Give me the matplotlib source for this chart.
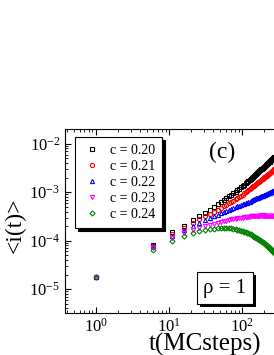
import matplotlib
matplotlib.use("Agg")
import matplotlib.pyplot as plt
import matplotlib.patheffects as pe

plt.rcParams["font.family"] = "Liberation Serif"
plt.rcParams["mathtext.fontset"] = "stix"

# time in MC steps (sampled every 5 steps)
t = [1, 6, 11, 16, 21, 26, 31, 36, 41, 46, 51, 56, 61, 66, 71, 76, 81, 86, 91, 96,
     101, 106, 111, 116, 121, 126, 131, 136, 141, 146, 151, 156, 161, 166, 171, 176,
     181, 186, 191, 196, 201, 206, 211, 216, 221, 226, 231, 236, 241, 246, 251, 256,
     261, 266, 271, 276]

i_020 = [1.74e-5, 8.3e-5, 1.48e-4, 2.04e-4, 2.63e-4, 3.16e-4, 3.72e-4, 4.31e-4, 4.90e-4, 5.60e-4,
         6.31e-4, 6.95e-4, 7.60e-4, 8.28e-4, 8.91e-4, 9.62e-4, 1.03e-3, 1.10e-3, 1.175e-3, 1.26e-3,
         1.35e-3, 1.44e-3, 1.53e-3, 1.62e-3, 1.72e-3, 1.81e-3, 1.91e-3, 2.01e-3, 2.11e-3, 2.21e-3,
         2.32e-3, 2.43e-3, 2.54e-3, 2.64e-3, 2.75e-3, 2.86e-3, 2.97e-3, 3.08e-3, 3.19e-3, 3.30e-3,
         3.40e-3, 3.52e-3, 3.63e-3, 3.75e-3, 3.88e-3, 4.02e-3, 4.15e-3, 4.28e-3, 4.41e-3, 4.54e-3,
         4.68e-3, 4.81e-3, 4.95e-3, 5.07e-3, 5.21e-3, 5.37e-3]
i_021 = [1.74e-5, 7.94e-5, 1.38e-4, 1.86e-4, 2.34e-4, 2.75e-4, 3.16e-4, 3.53e-4, 3.89e-4, 4.29e-4,
         4.68e-4, 5.08e-4, 5.50e-4, 5.92e-4, 6.31e-4, 6.73e-4, 7.13e-4, 7.53e-4, 7.94e-4, 8.43e-4,
         8.93e-4, 9.44e-4, 9.95e-4, 1.05e-3, 1.10e-3, 1.15e-3, 1.20e-3, 1.26e-3, 1.32e-3, 1.37e-3,
         1.43e-3, 1.49e-3, 1.55e-3, 1.60e-3, 1.66e-3, 1.72e-3, 1.78e-3, 1.84e-3, 1.90e-3, 1.95e-3,
         2.02e-3, 2.08e-3, 2.14e-3, 2.20e-3, 2.27e-3, 2.34e-3, 2.40e-3, 2.47e-3, 2.54e-3, 2.61e-3,
         2.67e-3, 2.74e-3, 2.81e-3, 2.88e-3, 2.95e-3, 3.02e-3]
i_022 = [1.74e-5, 7.76e-5, 1.26e-4, 1.66e-4, 2.04e-4, 2.34e-4, 2.63e-4, 2.90e-4, 3.16e-4, 3.44e-4,
         3.72e-4, 3.94e-4, 4.15e-4, 4.37e-4, 4.57e-4, 4.75e-4, 4.92e-4, 5.08e-4, 5.25e-4, 5.43e-4,
         5.60e-4, 5.78e-4, 5.94e-4, 6.11e-4, 6.28e-4, 6.44e-4, 6.61e-4, 6.79e-4, 6.95e-4, 7.11e-4,
         7.29e-4, 7.45e-4, 7.62e-4, 7.78e-4, 7.94e-4, 8.11e-4, 8.26e-4, 8.41e-4, 8.55e-4, 8.69e-4,
         8.83e-4, 8.97e-4, 9.12e-4, 9.27e-4, 9.42e-4, 9.55e-4, 9.70e-4, 9.84e-4, 9.98e-4, 1.01e-3,
         1.03e-3, 1.04e-3, 1.05e-3, 1.07e-3, 1.08e-3, 1.10e-3]
i_023 = [1.74e-5, 7.08e-5, 1.12e-4, 1.41e-4, 1.66e-4, 1.86e-4, 2.00e-4, 2.12e-4, 2.24e-4, 2.35e-4,
         2.45e-4, 2.54e-4, 2.61e-4, 2.69e-4, 2.75e-4, 2.81e-4, 2.86e-4, 2.90e-4, 2.95e-4, 2.98e-4,
         3.01e-4, 3.04e-4, 3.06e-4, 3.09e-4, 3.12e-4, 3.14e-4, 3.16e-4, 3.18e-4, 3.21e-4, 3.22e-4,
         3.24e-4, 3.26e-4, 3.28e-4, 3.30e-4, 3.31e-4, 3.30e-4, 3.32e-4, 3.31e-4, 3.31e-4, 3.32e-4,
         3.31e-4, 3.30e-4, 3.31e-4, 3.30e-4, 3.28e-4, 3.27e-4, 3.26e-4, 3.24e-4, 3.24e-4, 3.22e-4,
         3.21e-4, 3.20e-4, 3.19e-4, 3.18e-4, 3.17e-4, 3.16e-4]
i_024 = [1.74e-5, 6.31e-5, 1.00e-4, 1.23e-4, 1.41e-4, 1.55e-4, 1.66e-4, 1.72e-4, 1.78e-4, 1.82e-4,
         1.86e-4, 1.87e-4, 1.86e-4, 1.84e-4, 1.82e-4, 1.77e-4, 1.73e-4, 1.69e-4, 1.66e-4, 1.61e-4,
         1.56e-4, 1.52e-4, 1.48e-4, 1.45e-4, 1.41e-4, 1.38e-4, 1.35e-4, 1.30e-4, 1.26e-4, 1.22e-4,
         1.18e-4, 1.14e-4, 1.11e-4, 1.08e-4, 1.05e-4, 1.01e-4, 9.84e-5, 9.55e-5, 9.29e-5, 9.04e-5,
         8.79e-5, 8.55e-5, 8.32e-5, 8.04e-5, 7.78e-5, 7.52e-5, 7.28e-5, 7.06e-5, 6.85e-5, 6.65e-5,
         6.46e-5, 6.28e-5, 6.10e-5, 5.93e-5, 5.78e-5, 5.62e-5]

labels = ["c = 0.20", "c = 0.21", "c = 0.22", "c = 0.23", "c = 0.24"]
series = [i_020, i_021, i_022, i_023, i_024]
markers = ["s", "o", "^", "v", "D"]
colors = ["black", "#ff0000", "#0000ff", "#ff00ff", "#008000"]

fig = plt.figure(figsize=(2.74, 3.55), dpi=100, facecolor="white")
# axes runs past the right edge of the picture (cropped panel)
ax = fig.add_axes([0.2372, 0.118, 0.914, 0.518])

for y, m, c, lab in zip(series, markers, colors, labels):
    ms = 2.6 if m == "D" else 3.0
    ax.plot(t, y, linestyle="none", marker=m, markersize=ms, markerfacecolor="none",
            markeredgecolor=c, markeredgewidth=0.8, label=lab)

ax.set_xscale("log")
ax.set_yscale("log")
ax.set_xlim(0.38, 1000)
ax.set_ylim(3.2e-6, 0.02)
ax.tick_params(which="both", direction="in", top=True, right=False, labelsize=12)
ax.tick_params(which="major", length=4, width=0.8)
ax.tick_params(which="minor", length=2, width=0.6)
for s in ax.spines.values():
    s.set_linewidth(0.8)

ax.set_xlabel("t(MCsteps)", fontsize=18)
ax.xaxis.set_label_coords(0.559, -0.11)
ax.set_ylabel("<i(t)>", fontsize=17)
ax.yaxis.set_label_coords(-0.158, 0.478)

leg = ax.legend(loc="upper left", bbox_to_anchor=(0.04, 0.957), borderaxespad=0,
                fontsize=10, frameon=True, fancybox=False, edgecolor="black",
                framealpha=1, handlelength=1.4, handletextpad=0.6, labelspacing=0.22,
                borderpad=0.5, markerscale=1.0,
                shadow={"facecolor": "black", "edgecolor": "black", "alpha": 1.0})
leg.get_frame().set_linewidth(0.8)

ax.text(0.627, 0.875, "(c)", transform=ax.transAxes, fontsize=17, ha="center", va="center")

rho = ax.text(0.639, 0.136, "ρ = 1", transform=ax.transAxes, fontsize=15, ha="center",
              va="center", bbox=dict(boxstyle="square,pad=0.3", facecolor="white",
                                     edgecolor="black", linewidth=0.8))
rho.get_bbox_patch().set_path_effects([
    pe.SimplePatchShadow(offset=(2, -2), shadow_rgbFace="black", alpha=1.0), pe.Normal()])

fig.savefig("out.png", dpi=100, facecolor="white")
